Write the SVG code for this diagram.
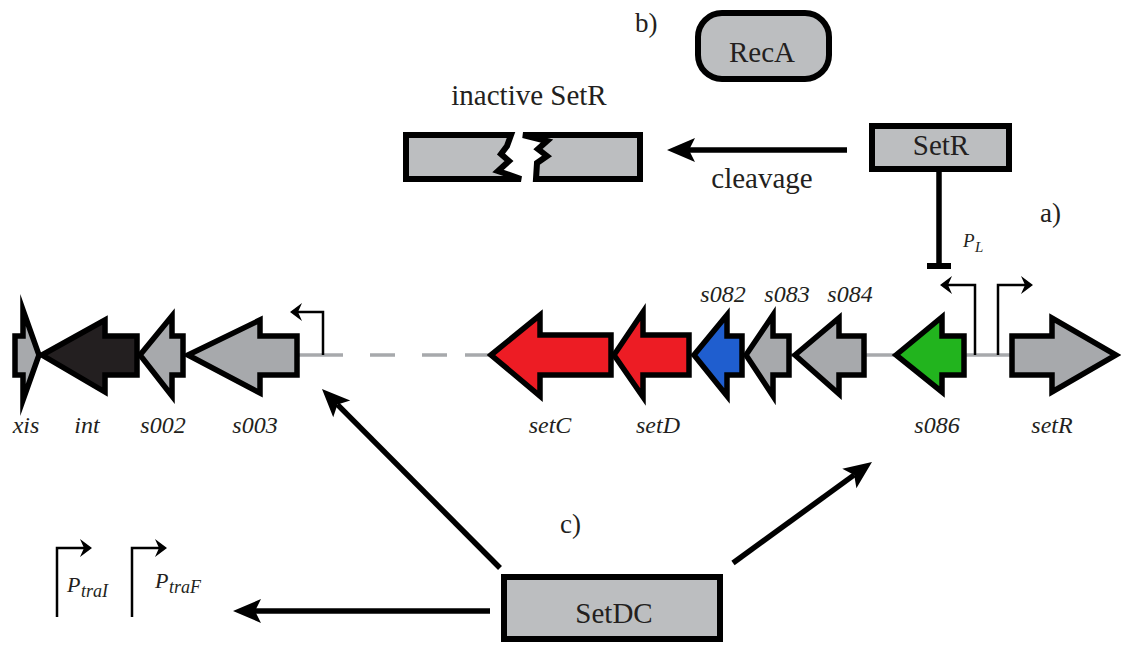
<svg xmlns="http://www.w3.org/2000/svg" width="1121" height="647" viewBox="0 0 1121 647">
  <style>
    .lbl { font-family: "Liberation Serif", "Times New Roman", serif; fill: #231f20; }
    .big { font-size: 29px; }
    .gene-lbl { font-family: "Liberation Serif", "Times New Roman", serif; font-style: italic; font-size: 24px; fill: #231f20; text-anchor: middle; }
    .it { font-family: "Liberation Serif", "Times New Roman", serif; font-style: italic; fill: #231f20; }
    .box { fill: #bcbec0; stroke: #000; stroke-width: 6; }
    .gene { stroke: #000; stroke-width: 5.5; stroke-linejoin: miter; stroke-miterlimit: 10; }
    .grey { fill: #a7a9ac; }
    .black { fill: #231f20; }
    .red { fill: #ed1c24; }
    .blue { fill: #1f5ecf; }
    .green { fill: #22b41e; }
    .backbone { stroke: #a7a9ac; stroke-width: 3.5; fill: none; }
    .prom { stroke: #000; stroke-width: 2.5; fill: none; marker-end: url(#small); }
    .act { stroke: #000; stroke-width: 5.5; fill: none; marker-end: url(#head); }
  </style>
  <defs>
    <!-- notched arrowhead; reference point sits at the notch so the line ends inside the head -->
    <marker id="head" markerUnits="userSpaceOnUse" viewBox="-30 -13 31 26" markerWidth="31" markerHeight="26" refX="-22" refY="0" orient="auto">
      <path d="M0,0 L-28,-12 L-22,0 L-28,12 Z" fill="#000"/>
    </marker>
    <marker id="small" markerUnits="userSpaceOnUse" viewBox="-14 -10 15 20" markerWidth="15" markerHeight="20" refX="-8" refY="0" orient="auto">
      <path d="M0,0 L-12,-9 L-8,0 L-12,9 Z" fill="#000"/>
    </marker>
  </defs>

  <!-- connectors: DNA backbone, promoters, regulatory arrows -->
  <g id="connectors">
    <path class="backbone" d="M297,355 H343"/>
    <path class="backbone" d="M370,355 H395 M422,355 H447 M465,355 H490"/>
    <path class="backbone" d="M490,355 H1014"/>
    <!-- s003 promoter -->
    <path class="prom" d="M323,355 V312 H298"/>
    <!-- divergent PL / setR promoters -->
    <path class="prom" d="M975,355 V285 H948"/>
    <path class="prom" d="M998,355 V285 H1025"/>
    <!-- PtraI / PtraF promoters -->
    <path class="prom" d="M57,617 V548 H84"/>
    <path class="prom" d="M132,617 V548 H159"/>
    <!-- SetR repression of PL -->
    <path d="M939,170 V266" stroke="#000" stroke-width="5.5" fill="none"/>
    <path d="M927,266 H951" stroke="#000" stroke-width="6" fill="none"/>
    <!-- cleavage -->
    <path class="act" d="M847,150 H689"/>
    <!-- SetDC activation -->
    <path class="act" d="M500,568 L337.5,404.6"/>
    <path class="act" d="M733,563 L854.2,474.9"/>
    <path class="act" d="M490,611 H255"/>
  </g>

  <!-- genes -->
  <g id="gene-xis">
    <polygon class="gene grey" points="15,336 23,336 23,310 39,355 23,400 23,375 15,375"/>
    <text class="gene-lbl" x="26" y="433">xis</text>
  </g>
  <g id="gene-int">
    <polygon class="gene black" points="42,355 105,320 105,336 137,336 137,375 105,375 105,392"/>
    <text class="gene-lbl" x="87" y="433">int</text>
  </g>
  <g id="gene-s002">
    <polygon class="gene grey" points="140,355 172,316 172,336 183,336 183,375 172,375 172,396"/>
    <text class="gene-lbl" x="163" y="433">s002</text>
  </g>
  <g id="gene-s003">
    <polygon class="gene grey" points="188,355 260,320 260,336 297,336 297,375 260,375 260,393"/>
    <text class="gene-lbl" x="255" y="433">s003</text>
  </g>
  <g id="gene-setC">
    <polygon class="gene red" points="491,355 540,315 540,335 611,335 611,375 540,375 540,396"/>
    <text class="gene-lbl" x="550" y="433">setC</text>
  </g>
  <g id="gene-setD">
    <polygon class="gene red" points="614,355 643,312 643,335 689,335 689,375 643,375 643,397"/>
    <text class="gene-lbl" x="658" y="433">setD</text>
  </g>
  <g id="gene-s082">
    <polygon class="gene blue" points="694,355 727,315 727,336 742,336 742,375 727,375 727,396"/>
    <text class="gene-lbl" x="723" y="302">s082</text>
  </g>
  <g id="gene-s083">
    <polygon class="gene grey" points="746,355 773,315 773,336 789,336 789,375 773,375 773,396"/>
    <text class="gene-lbl" x="787" y="302">s083</text>
  </g>
  <g id="gene-s084">
    <polygon class="gene grey" points="795,355 839,318 839,336 864,336 864,375 839,375 839,394"/>
    <text class="gene-lbl" x="850" y="302">s084</text>
  </g>
  <g id="gene-s086">
    <polygon class="gene green" points="896,355 942,317 942,336 964,336 964,375 942,375 942,392"/>
    <text class="gene-lbl" x="937" y="433">s086</text>
  </g>
  <g id="gene-setR">
    <polygon class="gene grey" points="1012,336 1052,336 1052,318 1116,355 1052,392 1052,375 1012,375"/>
    <text class="gene-lbl" x="1052" y="433">setR</text>
  </g>

  <!-- promoter labels -->
  <g id="label-PL">
    <text class="it" x="963" y="247" font-size="19">P</text>
    <text class="it" x="975" y="252" font-size="15">L</text>
  </g>
  <g id="label-PtraI">
    <text class="it" x="67" y="592" font-size="22">P</text>
    <text class="it" x="81" y="597" font-size="18">traI</text>
  </g>
  <g id="label-PtraF">
    <text class="it" x="155" y="588" font-size="22">P</text>
    <text class="it" x="169" y="593" font-size="18">traF</text>
  </g>

  <!-- proteins -->
  <g id="node-RecA">
    <rect class="box" x="698" y="13" width="131" height="66" rx="24" ry="24"/>
    <text class="lbl big" x="762" y="62" text-anchor="middle">RecA</text>
  </g>
  <g id="node-SetR">
    <rect class="box" x="872" y="126" width="137" height="43"/>
    <text class="lbl big" x="941" y="155" text-anchor="middle">SetR</text>
  </g>
  <g id="node-inactive-SetR">
    <path class="box" d="M406,135 H511 L507,146 L501,154 L509,161 L498,171 L521,179 H406 Z" stroke-linejoin="miter"/>
    <path class="box" d="M523,135 H640 V179 H536 L537,163 L547,156 L538,149 L547,141 Z" stroke-linejoin="miter"/>
    <text class="lbl big" x="529" y="105" text-anchor="middle">inactive SetR</text>
  </g>
  <g id="node-SetDC">
    <rect class="box" x="504" y="577" width="216" height="62"/>
    <text class="lbl big" x="614" y="623" text-anchor="middle">SetDC</text>
  </g>

  <!-- panel and edge labels -->
  <text class="lbl big" x="762" y="188" text-anchor="middle">cleavage</text>
  <text class="lbl" x="635" y="32" font-size="27">b)</text>
  <text class="lbl" x="1040" y="222" font-size="27">a)</text>
  <text class="lbl" x="560" y="533" font-size="27">c)</text>
</svg>
